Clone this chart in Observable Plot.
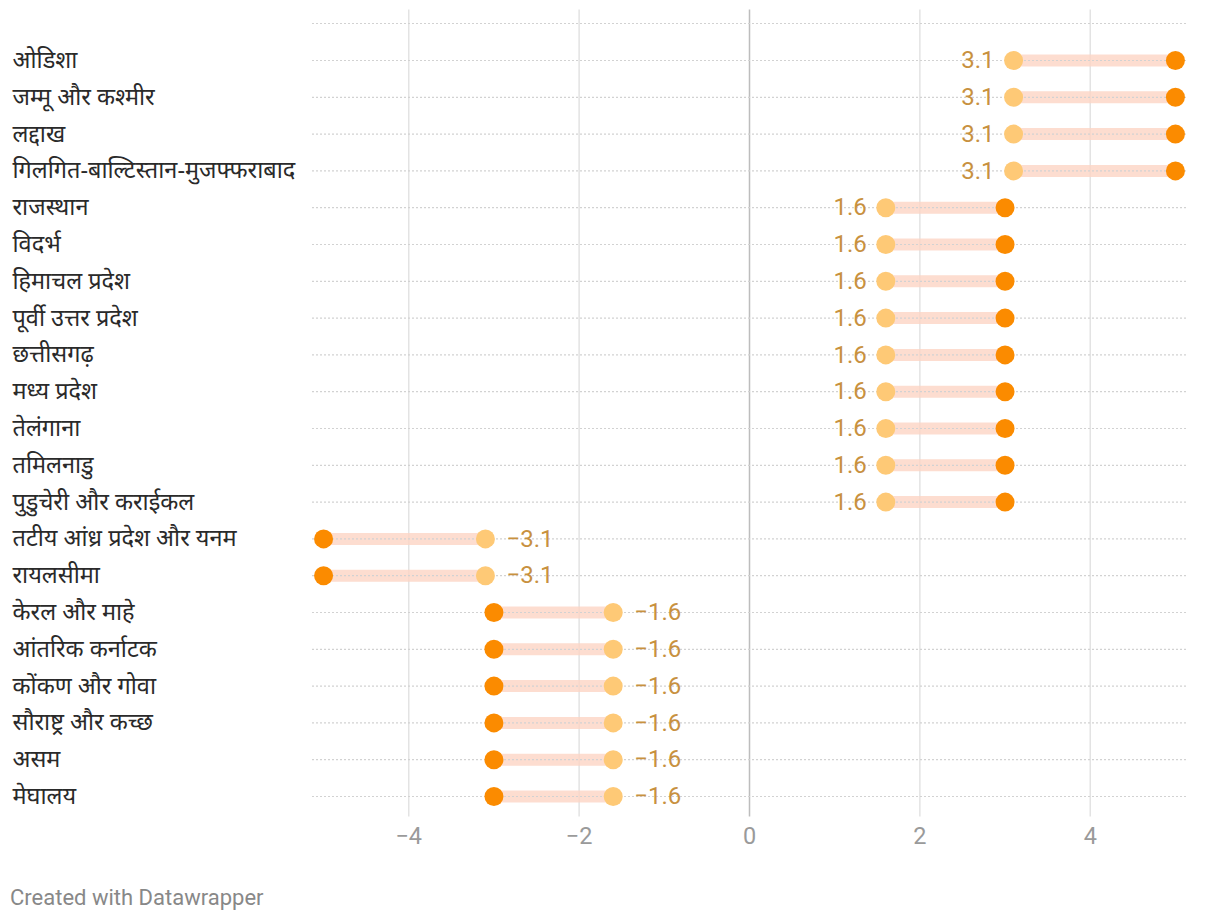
<!DOCTYPE html>
<html>
<head>
<meta charset="utf-8">
<script src="https://cdn.jsdelivr.net/npm/d3@7"></script>
<script src="https://cdn.jsdelivr.net/npm/@observablehq/plot@0.6"></script>
<style>
  body { margin: 0; background: #fff; }
  #chart svg { display: block; }
  #footer { font-family: Roboto, "Noto Sans", sans-serif; font-size: 22px; line-height: 26px; color: #888; padding: 15px 0 0 10px; }
</style>
</head>
<body>
<div id="chart"></div>
<div id="footer">Created with Datawrapper</div>
<script>
const regions = [
  "ओडिशा", "जम्मू और कश्मीर", "लद्दाख", "गिलगित-बाल्टिस्तान-मुजफ्फराबाद",
  "राजस्थान", "विदर्भ", "हिमाचल प्रदेश", "पूर्वी उत्तर प्रदेश", "छत्तीसगढ़",
  "मध्य प्रदेश", "तेलंगाना", "तमिलनाडु", "पुडुचेरी और कराईकल",
  "तटीय आंध्र प्रदेश और यनम", "रायलसीमा",
  "केरल और माहे", "आंतरिक कर्नाटक", "कोंकण और गोवा", "सौराष्ट्र और कच्छ", "असम", "मेघालय"
];
// light (labelled) value and dark (end) value per region
const startValues = [3.1, 3.1, 3.1, 3.1, 1.6, 1.6, 1.6, 1.6, 1.6, 1.6, 1.6, 1.6, 1.6, -3.1, -3.1, -1.6, -1.6, -1.6, -1.6, -1.6, -1.6];
const endValues   = [5, 5, 5, 5, 3, 3, 3, 3, 3, 3, 3, 3, 3, -5, -5, -3, -3, -3, -3, -3, -3];
const xTicks = [-4, -2, 0, 2, 4];

const data = regions.map((r, i) => ({region: r, a: startValues[i], b: endValues[i]}));
const fmt = v => (v < 0 ? "\u2212" : "") + Math.abs(v).toFixed(1);

const chart = Plot.plot({
  width: 1220,
  height: 870,
  marginLeft: 312,
  marginRight: 34,
  marginTop: 41.6,
  marginBottom: 55.6,
  style: {fontFamily: "Roboto, 'Noto Sans', 'Noto Sans Devanagari', sans-serif", fontSize: "20px", background: "#fff"},
  x: {domain: [-5.13, 5.13]},
  y: {domain: regions, type: "point", padding: 0.5, round: false},
  marks: [
    Plot.ruleX(xTicks.filter(d => d !== 0), {stroke: "#e3e3e3", strokeWidth: 1.5, insetTop: -32, insetBottom: -2}),
    Plot.ruleX([0], {stroke: "#bdbdbd", strokeWidth: 1.5, insetTop: -32, insetBottom: -2}),
    Plot.link(data, {x1: "a", x2: "b", y1: "region", y2: "region", stroke: "#fdd5c4", strokeOpacity: 0.8, strokeWidth: 12}),
    Plot.ruleY(regions, {y: d => d, stroke: "#d2d2d2", strokeDasharray: "2,2", strokeWidth: 1.2}),
    Plot.ruleY([regions[0]], {y: d => d, dy: -37, stroke: "#d2d2d2", strokeDasharray: "2,2", strokeWidth: 1.2}),
    Plot.dot(data, {x: "b", y: "region", r: 9.5, fill: "#fb8b00"}),
    Plot.dot(data, {x: "a", y: "region", r: 9.5, fill: "#fec976"}),
    Plot.text(data.filter(d => d.a > 0), {x: "a", y: "region", text: d => fmt(d.a), textAnchor: "end", dx: -19, fill: "#c8913f", fontSize: 24}),
    Plot.text(data.filter(d => d.a < 0), {x: "a", y: "region", text: d => fmt(d.a), textAnchor: "start", dx: 21, fill: "#c8913f", fontSize: 24}),
    Plot.axisX(xTicks, {tickSize: 0, tickPadding: 12, fill: "#9a9a9a", fontSize: 23.5, tickFormat: d => (d < 0 ? "\u2212" : "") + Math.abs(d), label: null}),
    Plot.axisY({tickSize: 0, textAnchor: "start", dx: -291, fill: "#2a2a2a", fontSize: 23.5, fontFamily: "'Noto Sans', 'Noto Sans Devanagari', sans-serif", label: null})
  ]
});
document.getElementById("chart").appendChild(chart);
</script>
</body>
</html>
